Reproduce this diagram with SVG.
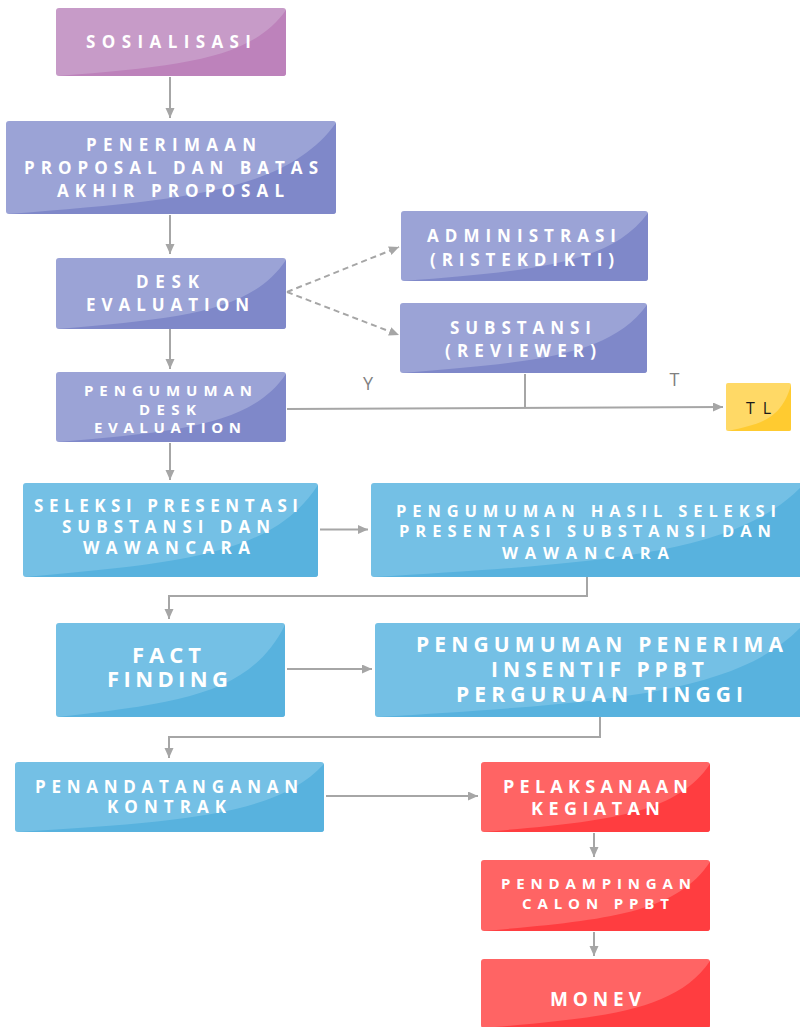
<svg xmlns="http://www.w3.org/2000/svg" width="800" height="1027" viewBox="0 0 800 1027">
<defs>
<marker id="ah" markerUnits="userSpaceOnUse" markerWidth="11" markerHeight="10" refX="10" refY="4.5" orient="auto">
<path d="M0,0 L10,4.5 L0,9 Z" fill="#a6a6a6"/>
</marker>
<style>
.t{font-family:"Open Sans","Liberation Sans",sans-serif;font-weight:700;fill:#ffffff;text-anchor:middle}
.c{fill:none;stroke:#a6a6a6;stroke-width:2}
.d{stroke-dasharray:6 4}
.pl{fill:#c79bc8}.pd{fill:#bd82bb}
.il{fill:#9ba3d6}.id{fill:#7f88c9}
.bl{fill:#74c0e5}.bd{fill:#58b2de}
.rl{fill:#ff6464}.rd{fill:#ff3d40}
.yl{fill:#ffd966}.yd{fill:#ffcb30}
.lab{font-family:"Open Sans","Liberation Sans",sans-serif;font-size:18px;fill:#808080;text-anchor:middle}
</style>
</defs>
<rect width="800" height="1027" fill="#ffffff"/>

<g id="connectors">
<line class="c" x1="170" y1="77" x2="170" y2="118" marker-end="url(#ah)"/>
<line class="c" x1="170" y1="215" x2="170" y2="254" marker-end="url(#ah)"/>
<line class="c" x1="170" y1="329" x2="170" y2="369" marker-end="url(#ah)"/>
<line class="c" x1="170" y1="443" x2="170" y2="480" marker-end="url(#ah)"/>
<line class="c d" x1="287" y1="292" x2="399" y2="247" marker-end="url(#ah)"/>
<line class="c d" x1="287" y1="292" x2="399" y2="335" marker-end="url(#ah)"/>
<line class="c" x1="287" y1="409" x2="723" y2="407" marker-end="url(#ah)"/>
<line class="c" x1="525" y1="374" x2="525" y2="408"/>
<line class="c" x1="320" y1="529.5" x2="368" y2="529.5" marker-end="url(#ah)"/>
<path class="c" d="M587,577 V596 H169 V619" marker-end="url(#ah)"/>
<line class="c" x1="287" y1="669" x2="372" y2="669" marker-end="url(#ah)"/>
<path class="c" d="M600,717 V737 H169 V758" marker-end="url(#ah)"/>
<line class="c" x1="326" y1="796" x2="478" y2="796" marker-end="url(#ah)"/>
<line class="c" x1="594" y1="833" x2="594" y2="857" marker-end="url(#ah)"/>
<line class="c" x1="594" y1="932" x2="594" y2="956" marker-end="url(#ah)"/>
<text class="lab" x="368" y="390">Y</text>
<text class="lab" x="674.5" y="386">T</text>
</g>

<g id="n1">
<rect class="pl" x="56" y="8" width="230" height="68" rx="3"/>
<path class="pd" d="M58,76 C182.5,65.8 251.5,59 286,10 L286,73 A3,3 0 0 1 283,76 Z"/>
<text class="t" font-size="17" x="168.5" y="48" textLength="165" lengthAdjust="spacing">SOSIALISASI</text>
</g>

<g id="n2">
<rect class="il" x="6" y="121" width="330" height="93" rx="3"/>
<path class="id" d="M8,214 C187.5,200 286.5,190.75 336,123 L336,211 A3,3 0 0 1 333,214 Z"/>
<text class="t" font-size="17" x="171" y="151" textLength="170" lengthAdjust="spacing">PENERIMAAN</text>
<text class="t" font-size="17" x="171" y="174" textLength="294" lengthAdjust="spacing">PROPOSAL DAN BATAS</text>
<text class="t" font-size="17" x="170.5" y="197" textLength="227" lengthAdjust="spacing">AKHIR PROPOSAL</text>
</g>

<g id="n3">
<rect class="il" x="56" y="258" width="230" height="71" rx="3"/>
<path class="id" d="M58,329 C182.5,318.35 251.5,311.25 286,260 L286,326 A3,3 0 0 1 283,329 Z"/>
<text class="t" font-size="17" x="167.5" y="288" textLength="63" lengthAdjust="spacing">DESK</text>
<text class="t" font-size="17" x="167.5" y="311" textLength="163" lengthAdjust="spacing">EVALUATION</text>
</g>

<g id="n4">
<rect class="il" x="56" y="372" width="230" height="70" rx="3"/>
<path class="id" d="M58,442 C182.5,431.5 251.5,424.5 286,374 L286,439 A3,3 0 0 1 283,442 Z"/>
<text class="t" font-size="15" x="168" y="396" textLength="168" lengthAdjust="spacing">PENGUMUMAN</text>
<text class="t" font-size="15" x="167.5" y="415" textLength="57" lengthAdjust="spacing">DESK</text>
<text class="t" font-size="15" x="167.5" y="433" textLength="147" lengthAdjust="spacing">EVALUATION</text>
</g>

<g id="n5">
<rect class="il" x="401" y="211" width="247" height="70" rx="3"/>
<path class="id" d="M403,281 C536.85,270.5 610.95,263.5 648,213 L648,278 A3,3 0 0 1 645,281 Z"/>
<text class="t" font-size="17" x="521.5" y="242" textLength="189" lengthAdjust="spacing">ADMINISTRASI</text>
<text class="t" font-size="17" x="522" y="266" textLength="184" lengthAdjust="spacing">(RISTEKDIKTI)</text>
</g>

<g id="n6">
<rect class="il" x="400" y="303" width="247" height="70" rx="3"/>
<path class="id" d="M402,373 C535.85,362.5 609.95,355.5 647,305 L647,370 A3,3 0 0 1 644,373 Z"/>
<text class="t" font-size="17" x="520.5" y="334" textLength="141" lengthAdjust="spacing">SUBSTANSI</text>
<text class="t" font-size="17" x="520.5" y="357" textLength="151" lengthAdjust="spacing">(REVIEWER)</text>
</g>

<g id="n7">
<rect class="yl" x="726" y="383" width="65" height="48" rx="2"/>
<path class="yd" d="M728,431 C761.75,423.8 781.25,419 791,385 L791,429 A2,2 0 0 1 789,431 Z"/>
<text font-family="Open Sans, Liberation Sans, sans-serif" font-size="16" fill="#1a1a1a" text-anchor="middle" x="758.5" y="414" textLength="25" lengthAdjust="spacing">TL</text>
</g>

<g id="n8">
<rect class="bl" x="23" y="483" width="295" height="94" rx="3"/>
<path class="bd" d="M25,577 C185.25,562.9 273.75,553.5 318,485 L318,574 A3,3 0 0 1 315,577 Z"/>
<text class="t" font-size="17" x="166" y="512" textLength="264" lengthAdjust="spacing">SELEKSI PRESENTASI</text>
<text class="t" font-size="17" x="166" y="533" textLength="208" lengthAdjust="spacing">SUBSTANSI DAN</text>
<text class="t" font-size="17" x="166.5" y="554" textLength="167" lengthAdjust="spacing">WAWANCARA</text>
</g>

<g id="n9">
<rect class="bl" x="371" y="483" width="432" height="94" rx="3"/>
<path class="bd" d="M373,577 C608.6,562.9 738.2,553.5 803,485 L803,574 A3,3 0 0 1 800,577 Z"/>
<text class="t" font-size="16.5" x="586" y="517" textLength="380" lengthAdjust="spacing">PENGUMUMAN HASIL SELEKSI</text>
<text class="t" font-size="16.5" x="585" y="537" textLength="372" lengthAdjust="spacing">PRESENTASI SUBSTANSI DAN</text>
<text class="t" font-size="16.5" x="585.5" y="559" textLength="167" lengthAdjust="spacing">WAWANCARA</text>
</g>

<g id="n10">
<rect class="bl" x="56" y="623" width="229" height="94" rx="3"/>
<path class="bd" d="M58,717 C181.95,702.9 250.65,693.5 285,625 L285,714 A3,3 0 0 1 282,717 Z"/>
<text class="t" font-size="22" x="166.5" y="663" textLength="69" lengthAdjust="spacing">FACT</text>
<text class="t" font-size="22" x="167.5" y="687" textLength="121" lengthAdjust="spacing">FINDING</text>
</g>

<g id="n11">
<rect class="bl" x="375" y="623" width="428" height="94" rx="3"/>
<path class="bd" d="M377,717 C610.4,702.9 738.8,693.5 803,625 L803,714 A3,3 0 0 1 800,717 Z"/>
<text class="t" font-size="21" x="599.5" y="652" textLength="367" lengthAdjust="spacing">PENGUMUMAN PENERIMA</text>
<text class="t" font-size="21" x="597.5" y="677" textLength="213" lengthAdjust="spacing">INSENTIF PPBT</text>
<text class="t" font-size="21" x="599.5" y="702" textLength="287" lengthAdjust="spacing">PERGURUAN TINGGI</text>
</g>

<g id="n12">
<rect class="bl" x="15" y="762" width="309" height="70" rx="3"/>
<path class="bd" d="M17,832 C184.95,821.5 277.65,814.5 324,764 L324,829 A3,3 0 0 1 321,832 Z"/>
<text class="t" font-size="17" x="166.5" y="793" textLength="263" lengthAdjust="spacing">PENANDATANGANAN</text>
<text class="t" font-size="17" x="166.5" y="813" textLength="119" lengthAdjust="spacing">KONTRAK</text>
</g>

<g id="n13">
<rect class="rl" x="481" y="762" width="229" height="70" rx="3"/>
<path class="rd" d="M483,832 C606.95,821.5 675.65,814.5 710,764 L710,829 A3,3 0 0 1 707,832 Z"/>
<text class="t" font-size="18" x="595.5" y="793" textLength="185" lengthAdjust="spacing">PELAKSANAAN</text>
<text class="t" font-size="18" x="595.5" y="815" textLength="129" lengthAdjust="spacing">KEGIATAN</text>
</g>

<g id="n14">
<rect class="rl" x="481" y="860" width="229" height="71" rx="3"/>
<path class="rd" d="M483,931 C606.95,920.35 675.65,913.25 710,862 L710,928 A3,3 0 0 1 707,931 Z"/>
<text class="t" font-size="15" x="596" y="889" textLength="190" lengthAdjust="spacing">PENDAMPINGAN</text>
<text class="t" font-size="15" x="595.5" y="909" textLength="147" lengthAdjust="spacing">CALON PPBT</text>
</g>

<g id="n15">
<rect class="rl" x="481" y="959" width="229" height="69" rx="3"/>
<path class="rd" d="M483,1028 C606.95,1017.65 675.65,1010.75 710,961 L710,1025 A3,3 0 0 1 707,1028 Z"/>
<text class="t" font-size="19" x="595.5" y="1006" textLength="91" lengthAdjust="spacing">MONEV</text>
</g>
</svg>
